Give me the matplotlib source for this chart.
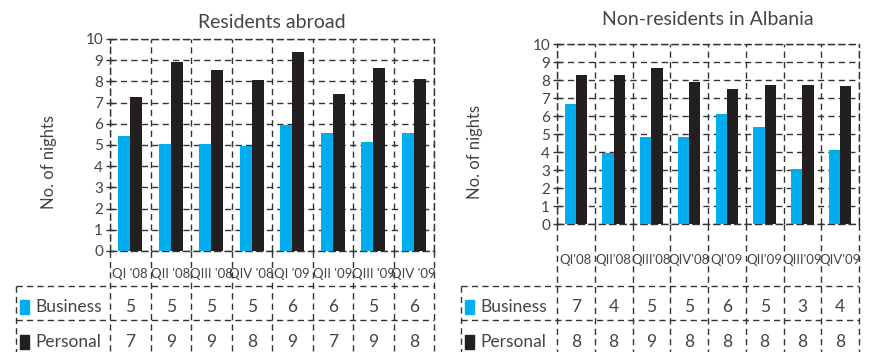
import matplotlib
matplotlib.use("Agg")
import matplotlib.pyplot as plt
from matplotlib.patches import Rectangle

plt.rcParams['font.family'] = ['Lato', 'DejaVu Sans']

# data (no. of nights)
series = ["Business", "Personal"]
res_quarters = ["QI '08", "QII '08", "QIII '08", "QIV '08", "QI '09", "QII '09", "QIII '09", "QIV '09"]
res_business = [5.42, 5.05, 5.05, 4.95, 5.93, 5.57, 5.14, 5.57]
res_personal = [7.25, 8.90, 8.54, 8.07, 9.39, 7.39, 8.63, 8.11]

non_quarters = ["QI'08", "QII'08", "QIII'08", "QIV'08", "QI'09", "QII'09", "QIII'09", "QIV'09"]
non_business = [6.66, 3.93, 4.84, 4.84, 6.12, 5.40, 3.06, 4.12]
non_personal = [8.29, 8.29, 8.68, 7.90, 7.51, 7.74, 7.74, 7.68]

BLUE = '#00aeef'
DARK = '#231f20'
TXT = '#444444'
LINE = '#333333'
DASH = (0, (4.5, 3))

W, H = 872, 352
fig = plt.figure(figsize=(W / 100, H / 100), dpi=100)


def panel(box, tab_left, tick_y, rows_y, lines_y, title, pad, ylab_xy, labels, bus, per):
    left, top, right, bottom = box
    n = len(labels)
    ax = fig.add_axes([left / W, 1 - bottom / H, (right - left) / W, (bottom - top) / H])
    ax.bar([i + 0.35 for i in range(n)], bus, width=0.3, color=BLUE, zorder=3)
    ax.bar([i + 0.65 for i in range(n)], per, width=0.3, color=DARK, zorder=3)
    ax.set_xlim(0, n)
    ax.set_ylim(0, 10)
    ax.set_yticks(range(11))
    ax.set_xticks(range(n + 1))
    ax.set_xticklabels([])
    ax.tick_params(axis='x', length=0)
    ax.tick_params(axis='y', direction='inout', length=6, width=1, color=LINE,
                   labelcolor=TXT, labelsize=11, pad=2)
    ax.grid(True, color=LINE, linestyle=DASH, linewidth=1, zorder=1)
    for sp in ax.spines.values():
        sp.set_linestyle(DASH)
        sp.set_color(LINE)
        sp.set_linewidth(1)
    ax.set_title(title, fontsize=14, color=TXT, pad=pad)
    ax.set_ylabel('No. of nights', fontsize=12, color=TXT)
    ax.yaxis.set_label_coords(*ylab_xy)

    # lower part: category labels and the data table
    unit = (right - left) / n
    xmin = -(left - tab_left) / unit
    lo = fig.add_axes([tab_left / W, 0, (right - tab_left) / W, (H - bottom) / H])
    lo.set_xlim(xmin, n)
    lo.set_ylim(H, bottom)
    lo.axis('off')
    lo.vlines(range(n + 1), bottom, H, color=LINE, linestyle=DASH, linewidth=1, clip_on=False)
    lo.vlines(xmin, lines_y[0], H, color=LINE, linestyle=DASH, linewidth=1, clip_on=False)
    lo.hlines(lines_y, xmin, n, color=LINE, linestyle=DASH, linewidth=1, clip_on=False)
    for i, lab in enumerate(labels):
        lo.text(i + 0.5, tick_y, lab, ha='center', va='center', fontsize=9.5, color=TXT)
    for name, vals, col, ry in zip(series, [bus, per], [BLUE, DARK], rows_y):
        lo.add_patch(Rectangle((xmin + 4 / unit, ry - 7), 9 / unit, 14, color=col, clip_on=False))
        lo.text(xmin + 19 / unit, ry, name, ha='left', va='center', fontsize=12.5, color=TXT)
        for i, v in enumerate(vals):
            lo.text(i + 0.5, ry, str(round(v)), ha='center', va='center', fontsize=12.5, color=TXT)


panel((110, 39, 434, 251), 16, 274, (307, 342), (286, 320), 'Residents abroad', 8,
      (-0.164, 0.42), res_quarters, res_business, res_personal)
panel((557, 44, 859, 224), 461, 260, (307, 342), (286, 320), 'Non-residents in Albania', 14,
      (-0.245, 0.4), non_quarters, non_business, non_personal)

fig.savefig('out.png', dpi=100)
